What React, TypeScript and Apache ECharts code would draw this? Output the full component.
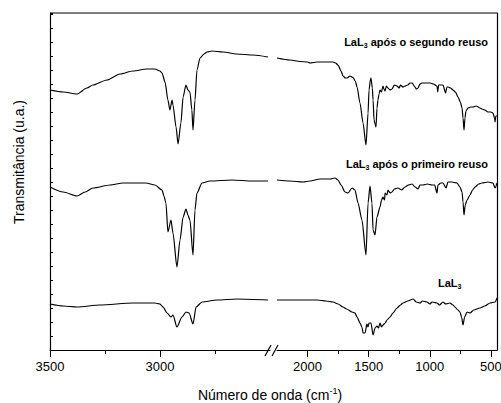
import React, { useEffect, useRef } from "react";
import * as echarts from "echarts";

// wavenumber (cm-1), transmittance (a.u.)
const segundoLeft: number[][] = [
  [3500, 260], [3440, 258], [3377, 256], [3332, 262], [3305, 265], [3241, 270], [3182, 276], [3123, 279],
  [3059, 281], [3023, 281], [3000, 279], [2991, 277], [2977, 268], [2964, 250], [2955, 240], [2945, 250],
  [2941, 245], [2927, 223], [2918, 206], [2905, 227], [2895, 253], [2882, 265], [2873, 260], [2864, 258],
  [2855, 240], [2850, 220], [2841, 250], [2832, 280], [2818, 292], [2800, 296], [2786, 298], [2764, 299],
  [2714, 298], [2650, 296], [2577, 295], [2509, 293],
];
const segundoRight: number[][] = [
  [2250, 292], [2144, 290], [2062, 288.5], [2000, 288], [1980, 287], [1923, 288], [1850, 288], [1792, 288],
  [1770, 287], [1751, 285], [1726, 279], [1710, 274], [1690, 272], [1677, 272], [1653, 274], [1628, 272.5],
  [1610, 269], [1595, 263], [1571, 247], [1546, 227], [1522, 205], [1505, 237], [1497, 260], [1485, 271],
  [1481, 272], [1470, 262], [1464, 250], [1456, 230], [1448, 226], [1440, 223], [1432, 242], [1424, 250],
  [1415, 256], [1407, 260], [1395, 258], [1383, 264], [1375, 261], [1366, 259], [1355, 264], [1342, 262],
  [1325, 260], [1309, 261], [1290, 265], [1268, 264], [1250, 262], [1240, 265], [1219, 263], [1203, 264],
  [1180, 265], [1162, 267], [1145, 267], [1121, 263], [1110, 261], [1096, 262], [1080, 266], [1064, 267],
  [1030, 267], [998, 267], [970, 266], [941, 264], [935, 258], [928, 265], [916, 265], [892, 265],
  [870, 257], [860, 263], [851, 263], [830, 262], [810, 260], [790, 258], [769, 253], [750, 248],
  [736, 242], [728, 232], [720, 220], [712, 232], [704, 239], [687, 242], [665, 243], [646, 243],
  [620, 244], [589, 242], [573, 241], [550, 240], [524, 238], [500, 238], [483, 237], [470, 232],
  [466, 228], [460, 234], [450, 234],
];
const primeiroLeft: number[][] = [
  [3500, 163], [3440, 158], [3377, 154], [3340, 158], [3305, 162], [3227, 165], [3168, 167], [3064, 167],
  [3023, 165], [2991, 160], [2982, 154], [2973, 147], [2964, 118], [2950, 130], [2941, 117], [2923, 83],
  [2909, 110], [2895, 133], [2882, 141], [2873, 135], [2864, 130], [2850, 95], [2841, 140], [2832, 157],
  [2809, 167], [2773, 169], [2673, 170], [2582, 169], [2509, 169],
];
const primeiroRight: number[][] = [
  [2250, 170], [2144, 169], [2037, 168], [1980, 169], [1898, 171], [1816, 171], [1775, 172], [1751, 170],
  [1726, 165], [1693, 158], [1669, 157], [1636, 162], [1612, 160], [1587, 147], [1555, 130], [1522, 95],
  [1505, 147], [1489, 164], [1473, 147], [1464, 120], [1448, 115], [1432, 133], [1407, 143], [1395, 150],
  [1383, 153], [1370, 150], [1366, 157], [1350, 155], [1342, 160], [1325, 157], [1309, 158], [1290, 161],
  [1260, 162], [1230, 160], [1203, 163], [1175, 165], [1145, 166], [1120, 163], [1096, 161], [1080, 165],
  [1055, 165], [1020, 166], [982, 165], [960, 165], [941, 157], [933, 165], [910, 167], [892, 167],
  [867, 162], [851, 168], [820, 168], [777, 167], [753, 163], [736, 158], [728, 148], [720, 135],
  [710, 145], [695, 150], [671, 155], [650, 160], [630, 163], [600, 166], [573, 167], [524, 168],
  [483, 167], [466, 162], [450, 167],
];
const lal3Left: number[][] = [
  [3500, 46], [3440, 44], [3377, 43], [3273, 45], [3123, 47], [3023, 47], [3000, 46], [2991, 44],
  [2986, 43], [2968, 37], [2950, 33], [2941, 35], [2923, 23], [2900, 33], [2882, 38], [2868, 37],
  [2850, 26], [2836, 43], [2809, 48], [2741, 50], [2650, 51], [2509, 50],
];
const lal3Right: number[][] = [
  [2250, 50], [2100, 50], [1923, 50], [1850, 49], [1792, 48], [1750, 46], [1710, 43], [1680, 41],
  [1636, 38], [1612, 37], [1595, 33], [1571, 27], [1555, 23], [1546, 17], [1530, 17], [1514, 26],
  [1505, 23], [1497, 27], [1481, 27], [1464, 15], [1448, 22], [1432, 24], [1420, 22], [1407, 27],
  [1395, 23], [1383, 25], [1365, 27], [1350, 30], [1325, 33], [1301, 37], [1268, 42], [1240, 45],
  [1219, 47], [1180, 49], [1137, 51], [1110, 48], [1080, 47], [1060, 49], [1023, 48], [1000, 46],
  [980, 48], [941, 47], [920, 45], [892, 48], [870, 46], [835, 47], [810, 45], [794, 43],
  [770, 40], [753, 38], [740, 33], [728, 25], [715, 33], [695, 38], [671, 37], [640, 40],
  [589, 42], [550, 44], [507, 47], [466, 48], [450, 52],
];

const leftMajorTicks = [3000, 3500];
const leftMinorTicks = [2750, 3250];
const rightMajorTicks = [500, 1000, 1500, 2000];
const rightMinorTicks = [750, 1250, 1750];

const FONT = "Liberation Sans, Arial, sans-serif";

export default function App() {
  const ref = useRef<HTMLDivElement>(null);
  useEffect(() => {
    const chart = echarts.init(ref.current!, null, { renderer: "svg" });
    const lineStyle = { color: "#000", width: 1.2 };
    const mkSeries = (data: number[][], xi: number, yi: number) => ({
      type: "line",
      data,
      xAxisIndex: xi,
      yAxisIndex: yi,
      showSymbol: false,
      symbol: "none",
      smooth: 0.25,
      smoothMonotone: "x",
      lineStyle,
    });
    const axisLine = { show: true, lineStyle: { color: "#000", width: 1.2 } };
    const fmt = (v: number) => String(v);
    const xBase = (min: number, max: number, gi: number) => ({
      type: "value",
      gridIndex: gi,
      min,
      max,
      inverse: true,
      position: "bottom",
      splitLine: { show: false },
    });
    const labelText = (rest: string) => `{a|LaL}{s|3}{a|${rest}}`;
    const richLab = {
      a: { fontFamily: FONT, fontSize: 11, fontWeight: "bold", fill: "#000", color: "#000", lineHeight: 14 },
      s: { fontFamily: FONT, fontSize: 7, fontWeight: "bold", fill: "#000", color: "#000", verticalAlign: "bottom", lineHeight: 14, padding: [6, 0, 0, 0] },
    };
    chart.setOption({
      animation: false,
      backgroundColor: "#fff",
      grid: [
        { left: 50, top: 13, width: 220, height: 337, outerBoundsMode: "none", containLabel: false },
        { left: 277, top: 13, width: 220, height: 337, outerBoundsMode: "none", containLabel: false },
      ],
      xAxis: [
        {
          ...xBase(2500, 3500, 0),
          interval: 500,
          axisLine,
          axisTick: { show: true, length: 7, customValues: leftMajorTicks, lineStyle: { color: "#000" } },
          axisLabel: { show: true, customValues: leftMajorTicks, formatter: fmt, margin: 10, fontSize: 13, fontFamily: FONT, color: "#000" },
        },
        {
          ...xBase(2500, 3500, 0),
          interval: 250,
          axisLine: { show: false },
          axisTick: { show: true, length: 4, customValues: leftMinorTicks, lineStyle: { color: "#000" } },
          axisLabel: { show: false },
        },
        {
          ...xBase(450, 2250, 1),
          axisLine,
          axisTick: { show: true, length: 7, customValues: rightMajorTicks, lineStyle: { color: "#000" } },
          axisLabel: { show: true, customValues: rightMajorTicks, formatter: fmt, margin: 10, fontSize: 13, fontFamily: FONT, color: "#000" },
        },
        {
          ...xBase(450, 2250, 1),
          axisLine: { show: false },
          axisTick: { show: true, length: 4, customValues: rightMinorTicks, lineStyle: { color: "#000" } },
          axisLabel: { show: false },
        },
      ],
      yAxis: [
        {
          type: "value",
          gridIndex: 0,
          min: 0,
          max: 337,
          interval: 14,
          position: "left",
          axisLine,
          axisTick: { show: true, inside: true, length: 3, lineStyle: { color: "#000" } },
          axisLabel: { show: false },
          splitLine: { show: false },
        },
        {
          type: "value",
          gridIndex: 1,
          min: 0,
          max: 337,
          position: "right",
          axisLine,
          axisTick: { show: false },
          axisLabel: { show: false },
          splitLine: { show: false },
        },
      ],
      series: [
        mkSeries(segundoLeft, 0, 0),
        mkSeries(primeiroLeft, 0, 0),
        mkSeries(lal3Left, 0, 0),
        mkSeries(segundoRight, 2, 1),
        mkSeries(primeiroRight, 2, 1),
        mkSeries(lal3Right, 2, 1),
      ],
      graphic: [
        { type: "line", shape: { x1: 50, y1: 13, x2: 497, y2: 13 }, style: { stroke: "#000", lineWidth: 1.2 }, silent: true },
        { type: "rect", shape: { x: 271, y: 347, width: 5, height: 6 }, style: { fill: "#fff" }, silent: true },
        { type: "line", shape: { x1: 265, y1: 356, x2: 271, y2: 345 }, style: { stroke: "#000", lineWidth: 1.2 }, silent: true },
        { type: "line", shape: { x1: 272, y1: 356, x2: 278, y2: 345 }, style: { stroke: "#000", lineWidth: 1.2 }, silent: true },
        {
          type: "text", x: 488, y: 42,
          style: { text: labelText(" após o segundo reuso"), rich: richLab, align: "right", verticalAlign: "middle" },
        },
        {
          type: "text", x: 488, y: 164,
          style: { text: labelText(" após o primeiro reuso"), rich: richLab, align: "right", verticalAlign: "middle" },
        },
        {
          type: "text", x: 438, y: 283,
          style: { text: "{a|LaL}{s|3}", rich: richLab, align: "left", verticalAlign: "middle" },
        },
        {
          type: "text", x: 270, y: 395,
          style: {
            text: "{t|Número de onda (cm}{u|-1}{t|)}",
            align: "center", verticalAlign: "middle",
            rich: {
              t: { fontFamily: FONT, fontSize: 14, fill: "#000", color: "#000", lineHeight: 18 },
              u: { fontFamily: FONT, fontSize: 9, fill: "#000", color: "#000", verticalAlign: "top", lineHeight: 18, padding: [0, 0, 6, 0] },
            },
          },
        },
        {
          type: "text", x: 19, y: 162, rotation: Math.PI / 2,
          style: { text: "Transmitância (u.a.)", font: `14px ${FONT}`, fill: "#000", align: "center", verticalAlign: "middle" },
        },
      ],
    });
    return () => chart.dispose();
  }, []);
  return <div ref={ref} style={{ position: "fixed", left: 0, top: 0, width: 501, height: 403 }} />;
}
